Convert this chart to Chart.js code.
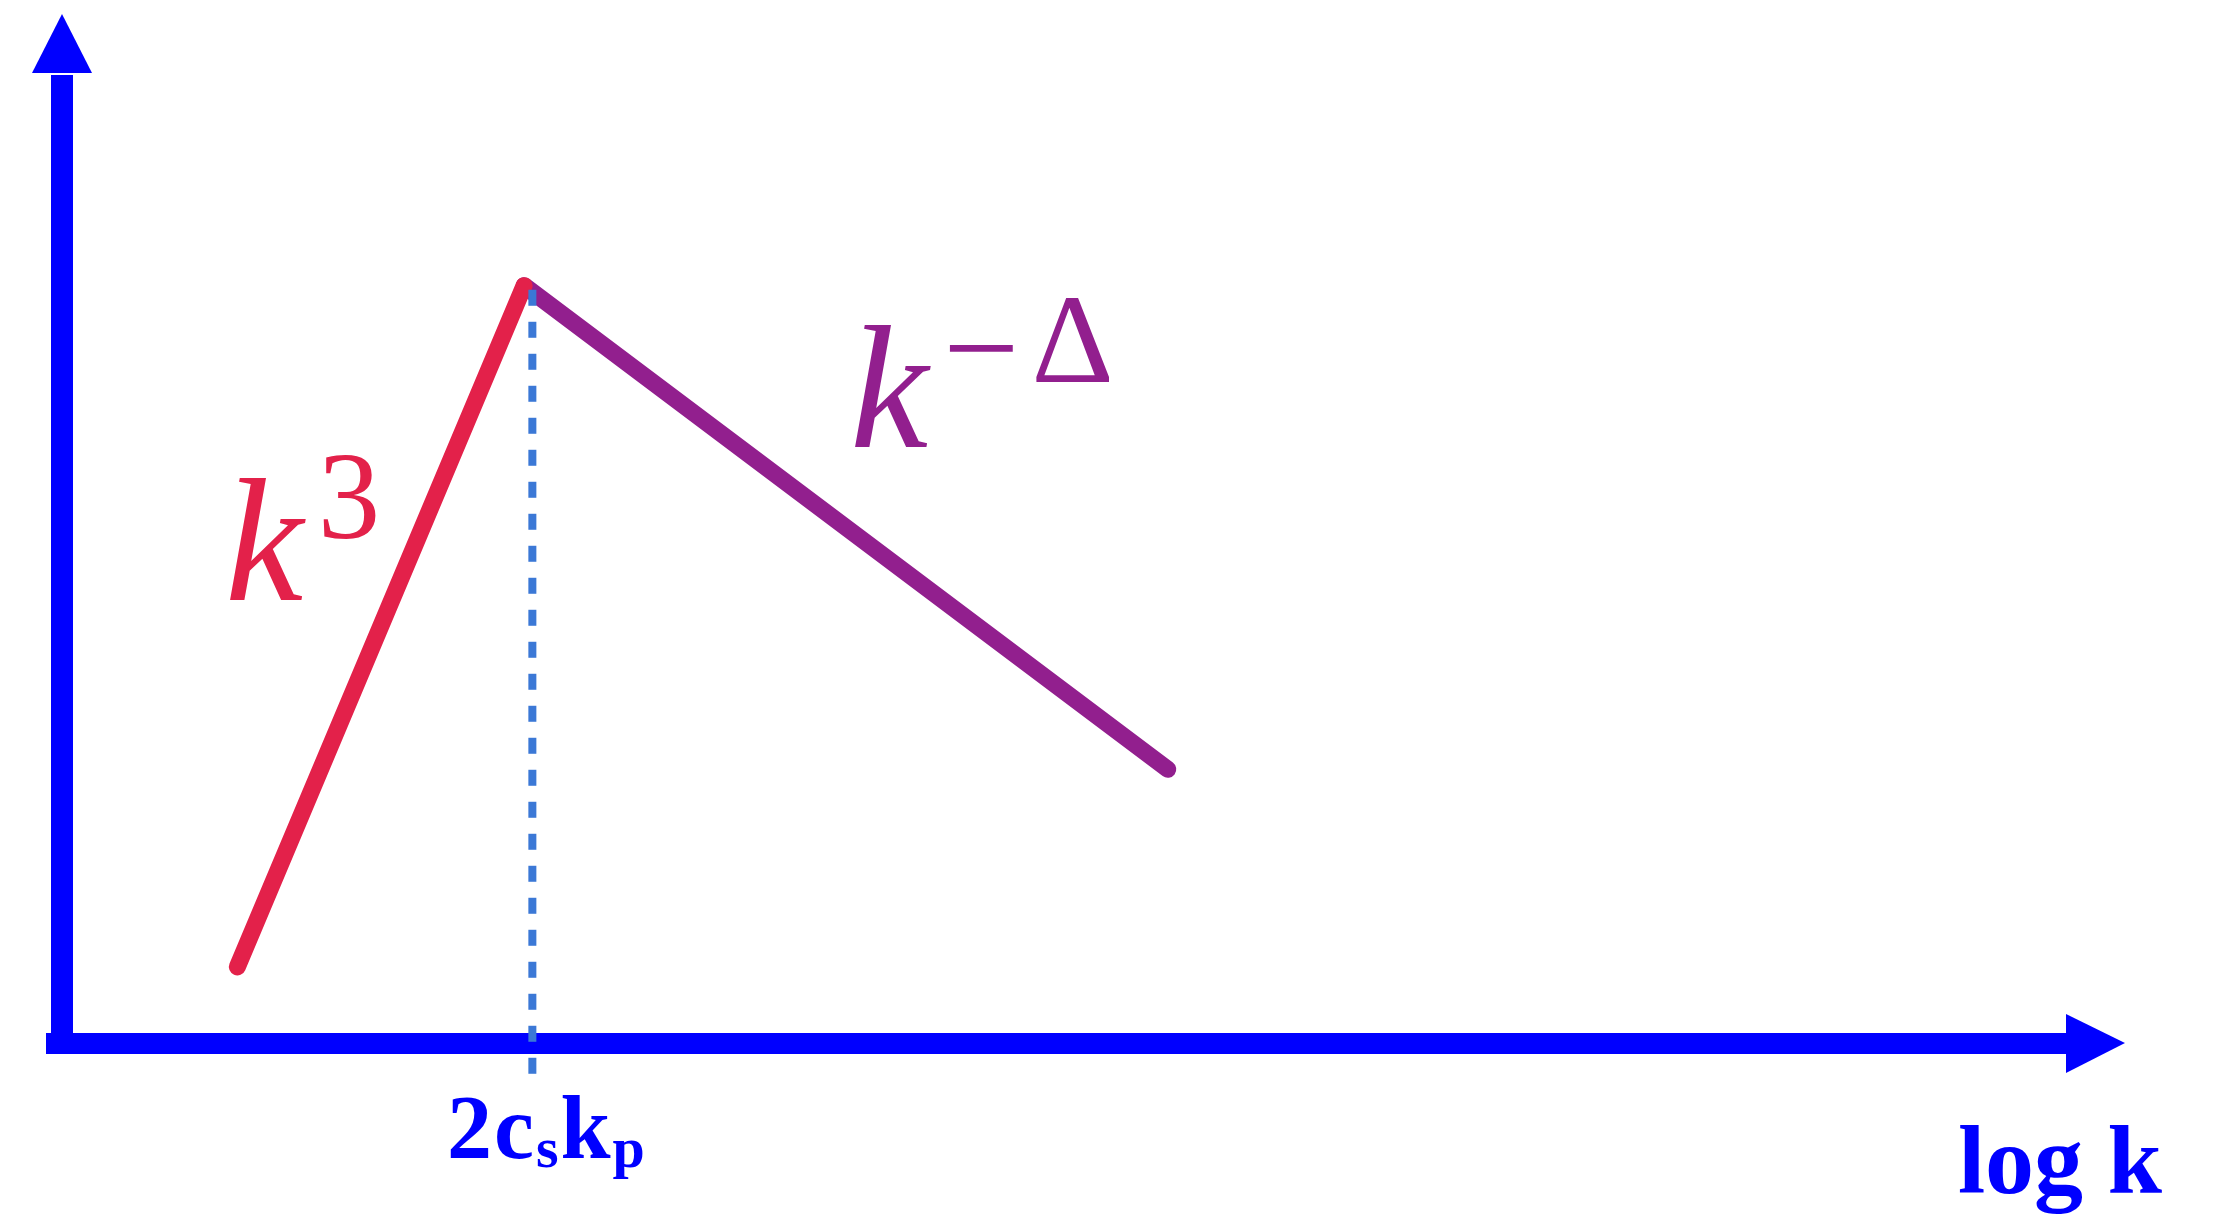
<!DOCTYPE html>
<html>
<head>
<meta charset="utf-8">
<script src="https://cdn.jsdelivr.net/npm/chart.js@4.4.1/dist/chart.umd.min.js"></script>
<style>
  html, body { margin: 0; padding: 0; background: #fff; }
  #wrap { width: 2229px; height: 1217px; position: relative; }
</style>
</head>
<body>
<div id="wrap"><canvas id="spectrum"></canvas></div>
<script>
// log k / log P in arbitrary units
const risingK = [0.85, 2.24];
const risingP = [0.37, 3.68];
const fallingK = [2.24, 5.36];
const fallingP = [3.68, 1.33];
const peakMarkK = [2.28, 2.28];
const peakMarkP = [3.66, -0.15];

const colors = {
    axis: "#0000ff",
    rising: "#e3214a",
    falling: "#921f8e",
    marker: "#3b78d6"
};

const serif = '"Liberation Serif", "DejaVu Serif", serif';

function toPoints(xs, ys) {
    return xs.map((x, i) => ({ x: x, y: ys[i] }));
}

// axes with arrow heads + the math labels
const sketchDecor = {
    id: 'sketchDecor',
    beforeDatasetsDraw(chart) {
        const ctx = chart.ctx;
        const xs = chart.scales.x, ys = chart.scales.y;
        const area = chart.chartArea;
        const x0 = xs.getPixelForValue(0);
        const y0 = ys.getPixelForValue(0);
        ctx.save();
        ctx.fillStyle = colors.axis;
        // vertical shaft
        ctx.fillRect(x0 - 11, area.top + 61, 22, y0 + 11 - (area.top + 61));
        // horizontal shaft
        ctx.fillRect(x0 - 16, y0 - 10, area.right - 59 - (x0 - 16), 21);
        // up arrow
        ctx.beginPath();
        ctx.moveTo(x0, area.top);
        ctx.lineTo(x0 + 30, area.top + 59);
        ctx.lineTo(x0 - 30, area.top + 59);
        ctx.closePath();
        ctx.fill();
        // right arrow
        ctx.beginPath();
        ctx.moveTo(area.right, y0);
        ctx.lineTo(area.right - 59, y0 - 29);
        ctx.lineTo(area.right - 59, y0 + 30);
        ctx.closePath();
        ctx.fill();
        ctx.restore();
    },
    afterDatasetsDraw(chart) {
        const ctx = chart.ctx;
        const xs = chart.scales.x, ys = chart.scales.y;
        const px = v => xs.getPixelForValue(v);
        const py = v => ys.getPixelForValue(v);
        ctx.save();
        ctx.textBaseline = 'alphabetic';
        ctx.textAlign = 'left';

        // k^3
        ctx.fillStyle = colors.rising;
        ctx.font = 'italic 176px ' + serif;
        ctx.fillText('k', px(0.79), py(2.153));
        ctx.font = '125px ' + serif;
        ctx.fillText('3', px(1.24), py(2.454));

        // k^-Δ
        ctx.fillStyle = colors.falling;
        ctx.font = 'italic 176px ' + serif;
        ctx.fillText('k', px(3.82), py(2.896));
        ctx.font = '135px ' + serif;
        ctx.fillText('\u2212', px(4.27), py(3.16));
        ctx.font = '128px ' + serif;
        ctx.fillText('\u0394', px(4.70), py(3.212));

        // 2 c_s k_p
        ctx.fillStyle = colors.axis;
        let x = px(1.866);
        const base = py(-0.559);
        const parts = [
            ['2', 90, 0], ['c', 90, 0], ['s', 58, 9], ['k', 90, 0], ['p', 58, 9]
        ];
        parts.forEach(p => {
            ctx.font = 'bold ' + p[1] + 'px ' + serif;
            ctx.fillText(p[0], x, base + p[2]);
            x += ctx.measureText(p[0]).width + 2;
        });

        // log k
        ctx.font = 'bold 98px ' + serif;
        ctx.fillText('log k', px(9.19), py(-0.729));
        ctx.restore();
    }
};

new Chart(document.getElementById('spectrum').getContext('2d'), {
    type: 'scatter',
    data: {
        datasets: [
            {
                label: 'marker',
                data: toPoints(peakMarkK, peakMarkP),
                showLine: true,
                borderColor: colors.marker,
                borderWidth: 8,
                borderDash: [16, 16],
                pointRadius: 0,
                clip: false
            },
            {
                label: 'k^3',
                data: toPoints(risingK, risingP),
                showLine: true,
                borderColor: colors.rising,
                borderWidth: 17,
                borderCapStyle: 'round',
                pointRadius: 0,
                clip: false
            },
            {
                label: 'k^-Δ',
                data: toPoints(fallingK, fallingP),
                showLine: true,
                borderColor: colors.falling,
                borderWidth: 17,
                borderCapStyle: 'round',
                pointRadius: 0,
                clip: false
            }
        ]
    },
    options: {
        responsive: true,
        maintainAspectRatio: false,
        animation: false,
        layout: { padding: { left: 62, right: 104, top: 14, bottom: 174 } },
        scales: {
            x: { type: 'linear', min: 0, max: 10, display: false },
            y: { type: 'linear', min: 0, max: 5, display: false }
        },
        plugins: {
            legend: { display: false },
            tooltip: { enabled: false }
        }
    },
    plugins: [sketchDecor]
});
</script>
</body>
</html>
